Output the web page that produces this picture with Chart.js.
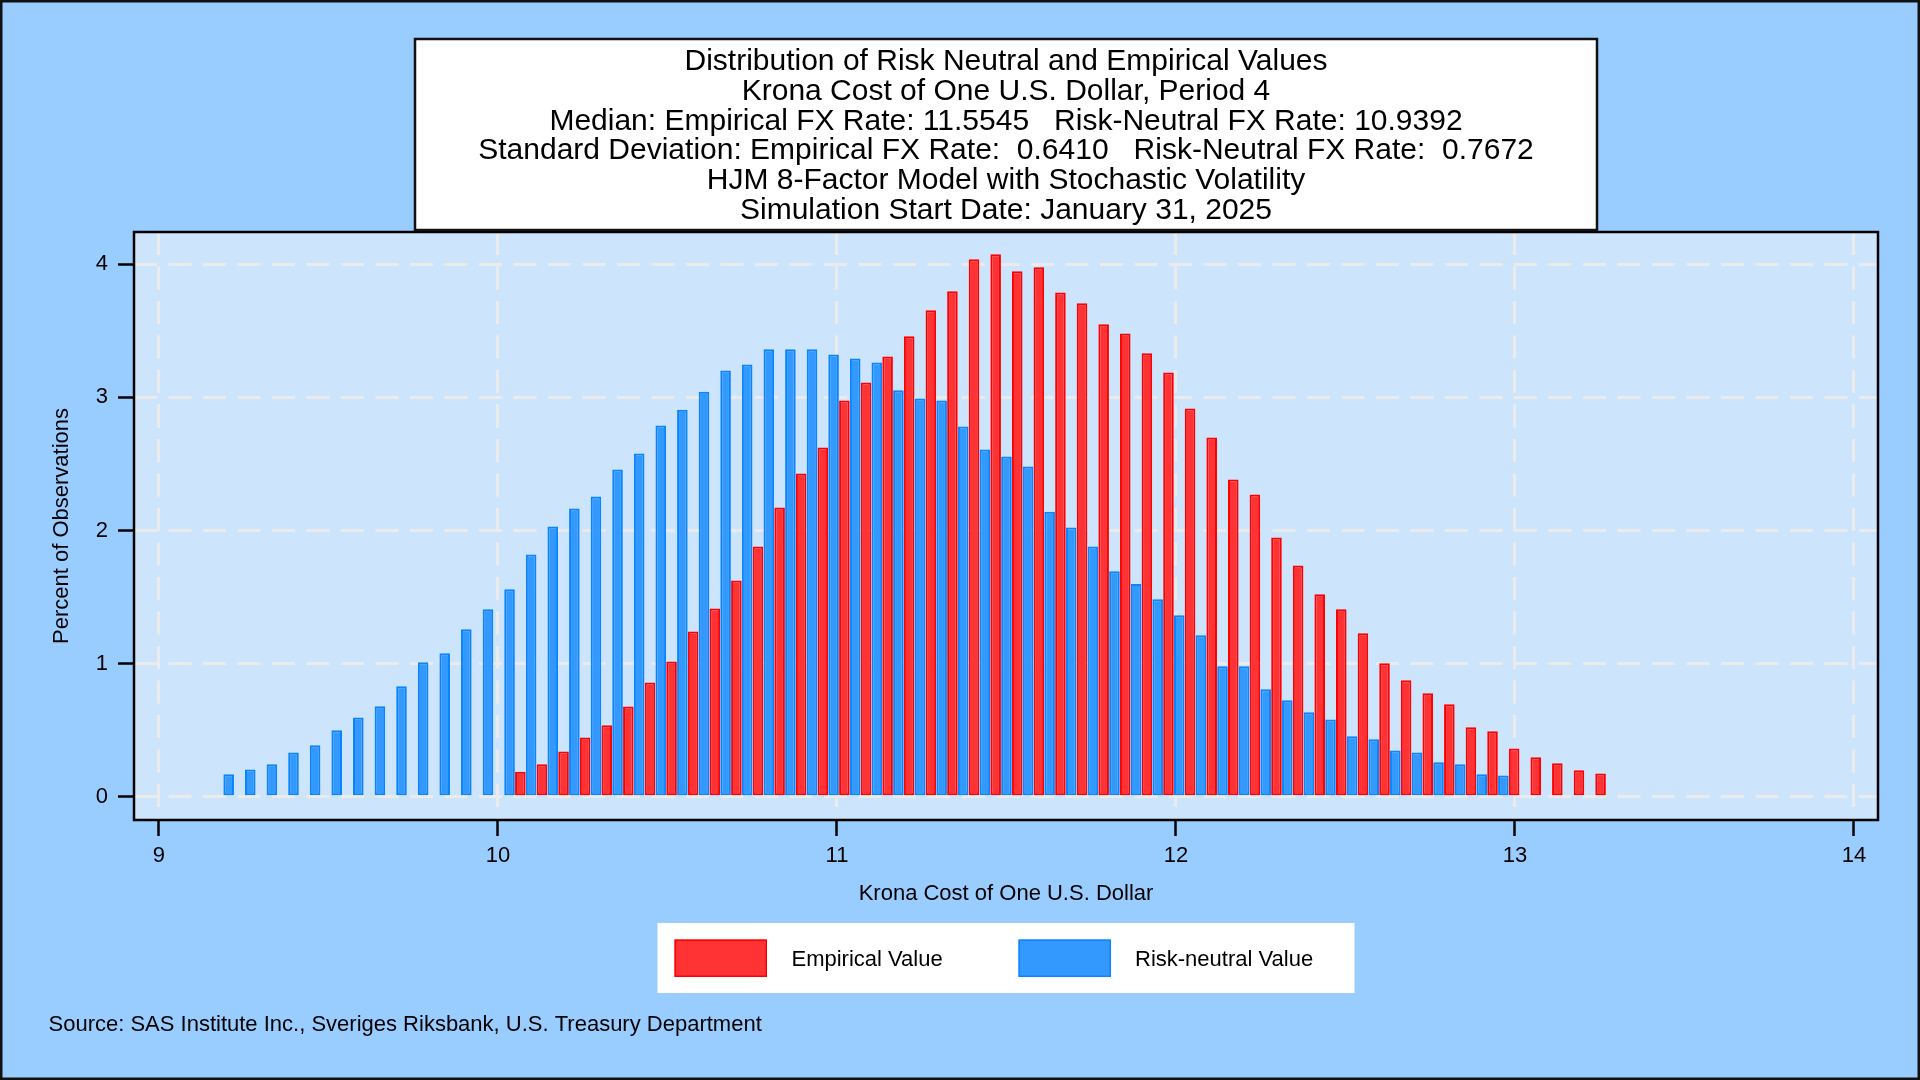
<!DOCTYPE html>
<html>
<head>
<meta charset="utf-8">
<title>Distribution of Risk Neutral and Empirical Values</title>
<script src="https://cdn.jsdelivr.net/npm/chart.js@4.4.1/dist/chart.umd.min.js"></script>
<style>
  html, body { margin: 0; padding: 0; background: #99ccff; }
  #wrap { position: relative; width: 1920px; height: 1080px; }
</style>
</head>
<body>
<div id="wrap"><canvas id="chart"></canvas></div>
<script>
  // bin midpoints (krona per dollar)
  const bins = [
    9.2215, 9.2852, 9.3490, 9.4127, 9.4764, 9.5402, 9.6039, 9.6676, 9.7313, 9.7951,
    9.8588, 9.9225, 9.9863, 10.0500, 10.1137, 10.1775, 10.2412, 10.3049, 10.3686, 10.4324,
    10.4961, 10.5598, 10.6236, 10.6873, 10.7510, 10.8148, 10.8785, 10.9422, 11.0059, 11.0697,
    11.1334, 11.1971, 11.2609, 11.3246, 11.3883, 11.4521, 11.5158, 11.5795, 11.6432, 11.7070,
    11.7707, 11.8344, 11.8982, 11.9619, 12.0256, 12.0894, 12.1531, 12.2168, 12.2805, 12.3443,
    12.4080, 12.4717, 12.5355, 12.5992, 12.6629, 12.7267, 12.7904, 12.8541, 12.9178, 12.9816,
    13.0453, 13.1090, 13.1728, 13.2365
  ];

  // percent of observations, risk-neutral (bins 0..59)
  const riskNeutral = [
    0.168, 0.205, 0.243, 0.333, 0.386, 0.499, 0.596, 0.679, 0.829, 1.010,
    1.078, 1.258, 1.408, 1.558, 1.820, 2.030, 2.165, 2.255, 2.458, 2.578,
    2.788, 2.908, 3.043, 3.203, 3.248, 3.361, 3.361, 3.361, 3.323, 3.293,
    3.263, 3.053, 2.992, 2.977, 2.782, 2.609, 2.556, 2.481, 2.140, 2.023,
    1.880, 1.694, 1.599, 1.484, 1.363, 1.213, 0.980, 0.980, 0.807, 0.724,
    0.634, 0.581, 0.454, 0.431, 0.348, 0.333, 0.258, 0.243, 0.168, 0.160
  ];

  // percent of observations, empirical (bins 13..63)
  const EMPIRICAL_FIRST_BIN = 13;
  const empirical = [
    0.188, 0.243, 0.340, 0.445, 0.536, 0.678, 0.858, 1.016, 1.241, 1.414,
    1.624, 1.880, 2.173, 2.429, 2.624, 2.977, 3.112, 3.308, 3.459, 3.654,
    3.797, 4.038, 4.075, 3.947, 3.977, 3.789, 3.707, 3.549, 3.481, 3.331,
    3.188, 2.917, 2.699, 2.383, 2.271, 1.947, 1.737, 1.521, 1.408, 1.228,
    1.003, 0.875, 0.777, 0.694, 0.521, 0.491, 0.363, 0.296, 0.251, 0.198,
    0.175
  ];

  const xTicks = [9, 10, 11, 12, 13, 14];
  const yTicks = [0, 1, 2, 3, 4];

  const titleLines = [
    "Distribution of Risk Neutral and Empirical Values",
    "Krona Cost of One U.S. Dollar, Period 4",
    "Median: Empirical FX Rate: 11.5545   Risk-Neutral FX Rate: 10.9392",
    "Standard Deviation: Empirical FX Rate:  0.6410   Risk-Neutral FX Rate:  0.7672",
    "HJM 8-Factor Model with Stochastic Volatility",
    "Simulation Start Date: January 31, 2025"
  ];
  const sourceNote = "Source: SAS Institute Inc., Sveriges Riksbank, U.S. Treasury Department";

  const FONT = '"Liberation Sans", Arial, sans-serif';
  const COLORS = {
    page: "#99ccff",
    plot: "#cce4fc",
    grid: "#ebebeb",
    redFill: "#ff3333",
    redLine: "#ff0000",
    blueFill: "#3399ff",
    blueLine: "#0a84ff"
  };

  Chart.defaults.font.family = FONT;
  Chart.defaults.color = "#000";

  const blueData = riskNeutral.map(function (v, i) { return { x: bins[i], y: v }; });
  const redData = empirical.map(function (v, i) { return { x: bins[i + EMPIRICAL_FIRST_BIN], y: v }; });

  const backdrop = {
    id: "backdrop",
    beforeDraw(chart) {
      const ctx = chart.ctx, a = chart.chartArea;
      ctx.save();
      ctx.fillStyle = COLORS.page;
      ctx.fillRect(0, 0, chart.width, chart.height);
      ctx.fillStyle = COLORS.plot;
      ctx.fillRect(a.left, a.top, a.right - a.left, a.bottom - a.top);
      ctx.restore();
    },
    afterDraw(chart) {
      const ctx = chart.ctx, a = chart.chartArea;
      const cx = (a.left + a.right) / 2;
      ctx.save();

      // plot frame
      ctx.strokeStyle = "#000";
      ctx.lineWidth = 2.5;
      ctx.strokeRect(a.left, a.top, a.right - a.left, a.bottom - a.top);

      // title box
      const tw = 1182;
      ctx.fillStyle = "#fff";
      ctx.fillRect(cx - tw / 2, 39, tw, a.top - 41);
      ctx.strokeStyle = "#111";
      ctx.lineWidth = 2.5;
      ctx.strokeRect(cx - tw / 2, 39, tw, a.top - 41);
      ctx.fillStyle = "#000";
      ctx.font = "30px " + FONT;
      ctx.textAlign = "center";
      ctx.textBaseline = "alphabetic";
      titleLines.forEach(function (t, i) { ctx.fillText(t, cx, 70 + i * 29.8); });

      // legend
      const lx = cx - 348.5, ly = 923;
      ctx.fillStyle = "#fff";
      ctx.fillRect(lx, ly, 697, 70);
      const items = [
        { label: "Empirical Value", fill: COLORS.redFill, line: COLORS.redLine, sx: 17, tx: 134 },
        { label: "Risk-neutral Value", fill: COLORS.blueFill, line: COLORS.blueLine, sx: 361, tx: 477.5 }
      ];
      ctx.font = "22px " + FONT;
      ctx.textAlign = "left";
      ctx.textBaseline = "middle";
      items.forEach(function (it) {
        ctx.fillStyle = it.fill;
        ctx.fillRect(lx + it.sx, ly + 16.5, 92.5, 37.5);
        ctx.strokeStyle = it.line;
        ctx.lineWidth = 1.5;
        ctx.strokeRect(lx + it.sx + 0.75, ly + 17.25, 91, 36);
        ctx.fillStyle = "#000";
        ctx.fillText(it.label, lx + it.tx, ly + 37);
      });

      // source note
      ctx.textBaseline = "alphabetic";
      ctx.fillText(sourceNote, 48.5, 1031);

      // outer border
      ctx.strokeStyle = "#111";
      ctx.lineWidth = 2.5;
      ctx.strokeRect(1.25, 1.25, chart.width - 2.5, chart.height - 2.5);
      ctx.restore();
    }
  };

  new Chart(document.getElementById("chart"), {
    type: "bar",
    data: {
      datasets: [
        {
          label: "Risk-neutral Value",
          data: blueData,
          backgroundColor: COLORS.blueFill,
          borderColor: COLORS.blueLine,
          borderWidth: 2,
          borderSkipped: false
        },
        {
          label: "Empirical Value",
          data: redData,
          backgroundColor: COLORS.redFill,
          borderColor: COLORS.redLine,
          borderWidth: 2,
          borderSkipped: false
        }
      ]
    },
    options: {
      responsive: true,
      maintainAspectRatio: false,
      devicePixelRatio: 1,
      animation: false,
      categoryPercentage: 1.0,
      barPercentage: 0.98,
      layout: { padding: { top: 232, right: 42, bottom: 0, left: 0 } },
      plugins: {
        legend: { display: false },
        tooltip: { enabled: false },
        title: { display: false }
      },
      scales: {
        x: {
          type: "linear",
          min: 8.9263,
          max: 14.0708,
          offset: false,
          afterBuildTicks: function (s) { s.ticks = xTicks.map(function (v) { return { value: v }; }); },
          afterFit: function (s) { s.height = 260; },
          grid: {
            offset: false,
            color: COLORS.grid,
            lineWidth: 3,
            drawTicks: true,
            tickLength: 16,
            tickColor: "#000",
            tickWidth: 2.5
          },
          border: { display: false, dash: [23, 11.5] },
          ticks: { font: { size: 22 }, color: "#000", padding: 7, maxRotation: 0, autoSkip: false },
          title: {
            display: true,
            text: "Krona Cost of One U.S. Dollar",
            font: { size: 22 },
            color: "#000",
            padding: { top: 0, bottom: 173.3 }
          }
        },
        y: {
          min: -0.175,
          max: 4.2427,
          afterBuildTicks: function (s) { s.ticks = yTicks.map(function (v) { return { value: v }; }); },
          afterFit: function (s) { s.width = 134; },
          grid: {
            color: COLORS.grid,
            lineWidth: 3,
            drawTicks: true,
            tickLength: 16,
            tickColor: "#000",
            tickWidth: 2.5
          },
          border: { display: false, dash: [23, 11.5] },
          ticks: { font: { size: 22 }, color: "#000", padding: 10 },
          title: {
            display: true,
            text: "Percent of Observations",
            font: { size: 22 },
            color: "#000",
            padding: { top: 48.8, bottom: 0 }
          }
        }
      }
    },
    plugins: [backdrop]
  });
</script>
</body>
</html>
